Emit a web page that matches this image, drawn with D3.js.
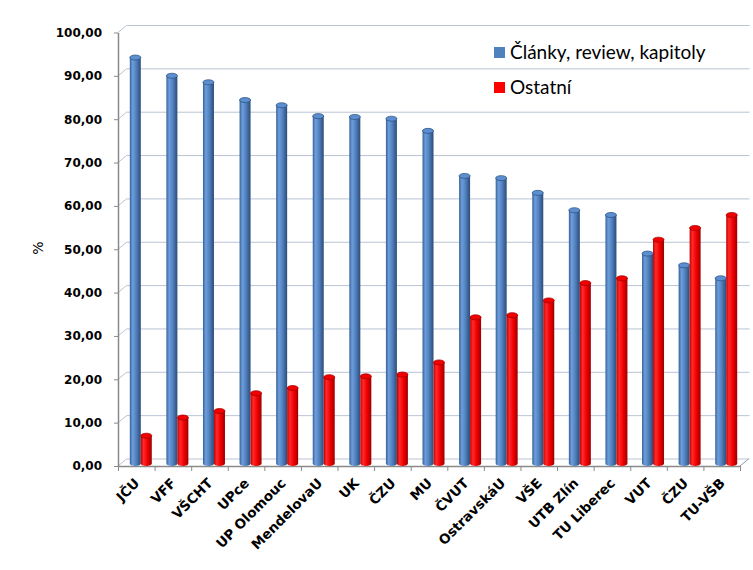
<!DOCTYPE html>
<html><head><meta charset="utf-8">
<script src="https://cdn.jsdelivr.net/npm/d3@7"></script>
<style>body{margin:0;background:#fff} svg{display:block}</style>
</head><body><svg id="c" width="753" height="570"></svg>
<script>
const categories = ["JČU","VFF","VŠCHT","UPce","UP Olomouc","MendelovaU","UK","ČZU","MU","ČVUT","OstravskáU","VŠE","UTB Zlín","TU Liberec","VUT","ČZU","TU-VŠB"];
const seriesNames = ["Články, review, kapitoly","Ostatní"];
const clanky  = [93.6,89.4,87.9,83.8,82.6,80.1,79.9,79.5,76.7,66.3,65.8,62.4,58.4,57.3,48.4,45.7,42.7];
const ostatni = [6.4,10.6,12.1,16.2,17.4,19.9,20.1,20.5,23.3,33.7,34.2,37.6,41.6,42.7,51.6,54.3,57.3];
const yTicks = [0,10,20,30,40,50,60,70,80,90,100];
const yLabel = "%";

const svg = d3.select("#c");
const n = categories.length;
const X0 = 118, X1 = 740, DX = 8.5, DY = -7;
const x = d3.scaleBand().domain(d3.range(n)).range([X0, X1]);
const xEdge = d3.scaleLinear().domain([0, n]).range([X0, X1]);
const yFront = d3.scaleLinear().domain([0,100]).range([466, 32.5]);
const yBack = d3.scaleLinear().domain([0,100]).range([466+DY, 32.5+DY]);
const yBar = d3.scaleLinear().domain([0,100]).range([463.5, 29.8]);
const fmt = v => d3.format(".2f")(v).replace(".", ",");

const defs = svg.append("defs");
function grad(id, stops){
  const g = defs.append("linearGradient").attr("id", id).attr("x1","0").attr("x2","1").attr("y1","0").attr("y2","0");
  stops.forEach(s => g.append("stop").attr("offset", s[0]).attr("stop-color", s[1]));
}
grad("gBlue", [["0%","#36629a"],["25%","#6d9ddb"],["55%","#5484c2"],["100%","#2b4c7a"]]);
grad("gRed", [["0%","#c00000"],["25%","#ff2a2a"],["60%","#f20000"],["100%","#9c0000"]]);

// back wall gridlines and side diagonals
const grid = svg.append("g");
grid.selectAll("line.h").data(yTicks).join("line")
  .attr("x1", X0+DX).attr("x2", X1+DX+1)
  .attr("y1", d => yBack(d)).attr("y2", d => yBack(d))
  .attr("stroke", "#b9c4d4").attr("stroke-width", 1);
grid.selectAll("line.d").data(yTicks).join("line")
  .attr("x1", X0).attr("x2", X0+DX)
  .attr("y1", d => yFront(d)).attr("y2", d => yBack(d))
  .attr("stroke", "#b9c4d4").attr("stroke-width", 1);
// floor edge
svg.append("line").attr("x1", X1).attr("x2", X1+DX).attr("y1", yFront(0)).attr("y2", yBack(0))
  .attr("stroke", "#9a9a9a");

// y axis
const ya = svg.append("g").attr("transform", `translate(${X0},0)`)
  .call(d3.axisLeft(yFront).tickValues(yTicks).tickSize(4).tickSizeOuter(0).tickPadding(12).tickFormat(fmt));
ya.select(".domain").attr("stroke", "#8a8a8a").attr("stroke-width", 1.5);
ya.selectAll(".tick line").attr("stroke", "#8a8a8a");
ya.selectAll(".tick text").attr("font-family", "DejaVu Sans").attr("font-weight", "bold").attr("font-size", 12).attr("fill", "#000");

// x axis
const xa = svg.append("g").attr("transform", `translate(0,${yFront(0)})`)
  .call(d3.axisBottom(xEdge).tickValues(d3.range(n+1)).tickSize(5).tickSizeOuter(0).tickFormat(""));
xa.select(".domain").attr("stroke", "#8a8a8a").attr("stroke-width", 1.5);
xa.selectAll(".tick line").attr("stroke", "#8a8a8a");

svg.append("g").selectAll("text").data(categories).join("text")
  .attr("transform", (d,i) => `translate(${x(i)+x.bandwidth()/2+4},484) rotate(-45)`)
  .attr("text-anchor", "end")
  .attr("font-family", "DejaVu Sans").attr("font-weight", "bold").attr("font-size", 13.5)
  .attr("fill", "#000").text(d => d);

// cylinders
const bw = 11, ry = 2.5;
function cyl(g, data, off, gradId, topFill, stroke){
  const gg = g.selectAll("g").data(data).join("g");
  gg.each(function(v, i){
    const cx = x(i) + x.bandwidth()/2 + 4.5 + off;
    const top = yBar(v), base = yBar(0);
    const s = d3.select(this);
    s.append("path")
      .attr("d", `M${cx-bw/2},${top} L${cx-bw/2},${base} A${bw/2},${ry} 0 0 0 ${cx+bw/2},${base} L${cx+bw/2},${top} Z`)
      .attr("fill", `url(#${gradId})`);
    s.append("ellipse").attr("cx", cx).attr("cy", top).attr("rx", bw/2).attr("ry", ry)
      .attr("fill", topFill).attr("stroke", stroke).attr("stroke-width", 0.8);
  });
}
cyl(svg.append("g"), clanky, -bw/2, "gBlue", "#5d8ed0", "#2f5788");
cyl(svg.append("g"), ostatni, bw/2, "gRed", "#f00000", "#a80000");

// y label
svg.append("text").attr("transform", "translate(39,248) rotate(-90)")
  .attr("text-anchor", "middle").attr("dominant-baseline", "middle")
  .attr("font-family", "DejaVu Sans").attr("font-size", 14).attr("fill", "#000").text(yLabel);

// legend
const legColors = ["#4f81bd", "#ff0000"];
const leg = svg.append("g");
seriesNames.forEach((s, k) => {
  leg.append("rect").attr("x", 494).attr("y", 47 + k*35).attr("width", 11).attr("height", 11).attr("fill", legColors[k]);
  leg.append("text").attr("x", 510).attr("y", 59 + k*34.5)
    .attr("font-family", "Lato").attr("font-size", 19).attr("fill", "#000").text(s);
});
</script>
</body></html>
